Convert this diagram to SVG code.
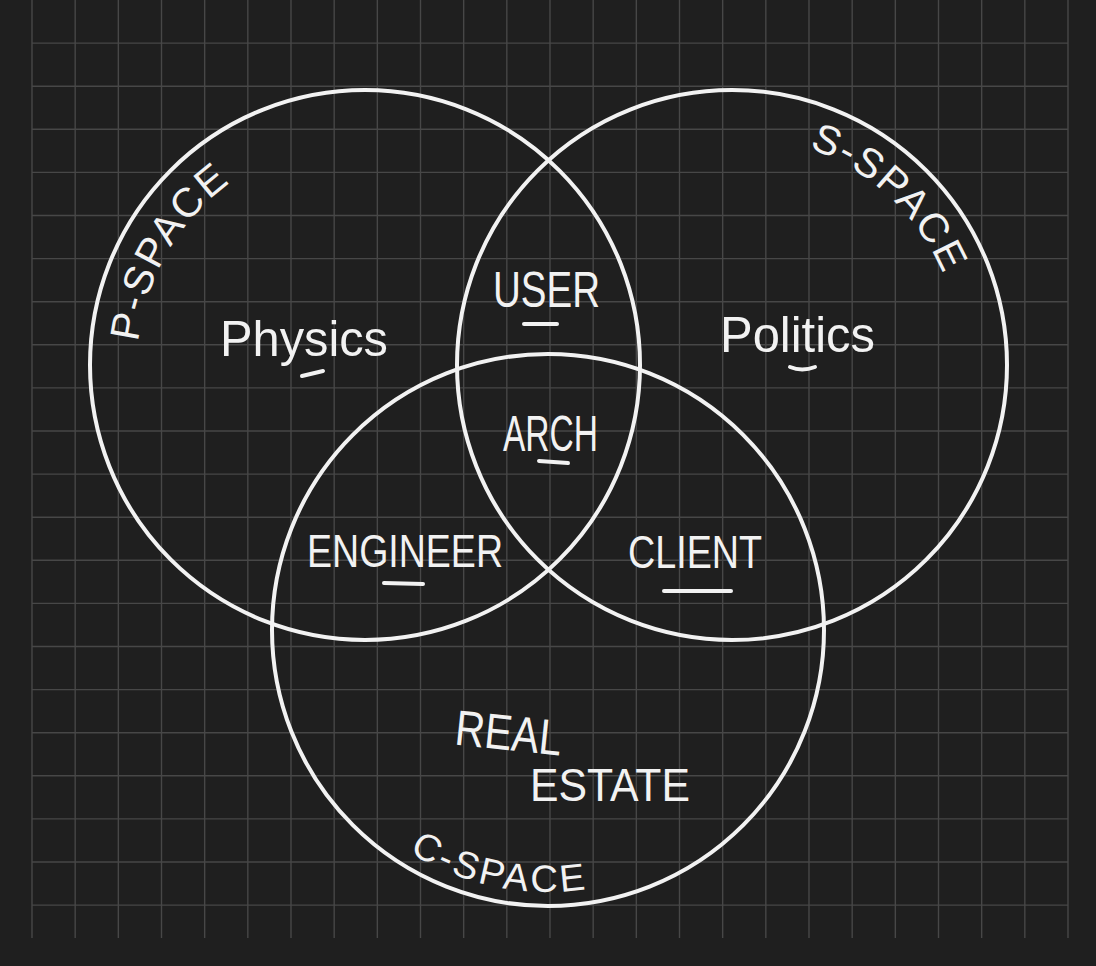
<svg xmlns="http://www.w3.org/2000/svg" width="1096" height="966" viewBox="0 0 1096 966">
<style>
.grid{fill:none;stroke:#474747;stroke-width:1.4}
.ring{fill:none;stroke:#f2f2f2;stroke-width:4}
.mark{fill:none;stroke:#f2f2f2;stroke-width:4;stroke-linecap:round}
.lbl{font-family:"Liberation Sans",Arial,sans-serif;fill:#f2f2f2}
.big{font-size:50px}
.arc{font-size:41px;letter-spacing:2px}
</style>
<defs>
<path id="pArc" d="M138.3,342.1 A228,228 0 0 1 261.6,163.4"/>
<path id="sArc" d="M803.1,146.2 A230,230 0 0 1 954.2,305.5"/>
<path id="cArc" d="M409.2,852.2 A262,262 0 0 0 629,879.2"/>
</defs>
<rect x="0" y="0" width="1096" height="966" fill="#1f1f1f"/>
<g id="grid">
<path class="grid" d="M32,0V938 M75.17,0V938 M118.33,0V938 M161.5,0V938 M204.67,0V938 M247.83,0V938 M291,0V938 M334.17,0V938 M377.33,0V938 M420.5,0V938 M463.67,0V938 M506.83,0V938 M550,0V938 M593.17,0V938 M636.33,0V938 M679.5,0V938 M722.67,0V938 M765.83,0V938 M809,0V938 M852.17,0V938 M895.33,0V938 M938.5,0V938 M981.67,0V938 M1024.83,0V938 M1068,0V938
M32,43.1H1068 M32,86.2H1068 M32,129.3H1068 M32,172.4H1068 M32,215.5H1068 M32,258.6H1068 M32,301.7H1068 M32,344.8H1068 M32,387.9H1068 M32,431H1068 M32,474.1H1068 M32,517.2H1068 M32,560.3H1068 M32,603.4H1068 M32,646.5H1068 M32,689.6H1068 M32,732.7H1068 M32,775.8H1068 M32,818.9H1068 M32,862H1068 M32,905.1H1068"/>
</g>
<g id="p-space">
<circle class="ring" cx="365" cy="365" r="275"/>
<text class="lbl arc"><textPath href="#pArc">P-SPACE</textPath></text>
<text class="lbl big" x="220" y="356" textLength="168" lengthAdjust="spacingAndGlyphs">Physics</text>
<path class="mark" d="M302,376 L323,371"/>
</g>
<g id="s-space">
<circle class="ring" cx="732" cy="365" r="275"/>
<text class="lbl arc"><textPath href="#sArc" startOffset="6">S-SPACE</textPath></text>
<text class="lbl big" x="720" y="352" textLength="155" lengthAdjust="spacingAndGlyphs">Politics</text>
<path class="mark" d="M790,367 Q802,372 815,367"/>
</g>
<g id="c-space">
<circle class="ring" cx="548" cy="630" r="276"/>
<text class="lbl" font-size="38" letter-spacing="3"><textPath href="#cArc">C-SPACE</textPath></text>
<text class="lbl big" x="455" y="750" textLength="107" lengthAdjust="spacingAndGlyphs" transform="rotate(6 508 735)">REAL</text>
<text class="lbl" font-size="46" x="530" y="801" textLength="160" lengthAdjust="spacingAndGlyphs">ESTATE</text>
</g>
<g id="user">
<text class="lbl big" x="493" y="307" textLength="107" lengthAdjust="spacingAndGlyphs">USER</text>
<path class="mark" d="M524,324 L557,324"/>
</g>
<g id="arch">
<text class="lbl big" x="503" y="451" textLength="95" lengthAdjust="spacingAndGlyphs">ARCH</text>
<path class="mark" d="M539,461 L568,463"/>
</g>
<g id="engineer">
<text class="lbl" font-size="46" x="307" y="567" textLength="196" lengthAdjust="spacingAndGlyphs">ENGINEER</text>
<path class="mark" d="M384,583 L423,584"/>
</g>
<g id="client">
<text class="lbl" font-size="46" x="628" y="568" textLength="134" lengthAdjust="spacingAndGlyphs">CLIENT</text>
<path class="mark" d="M664,591 L731,591"/>
</g>
</svg>
